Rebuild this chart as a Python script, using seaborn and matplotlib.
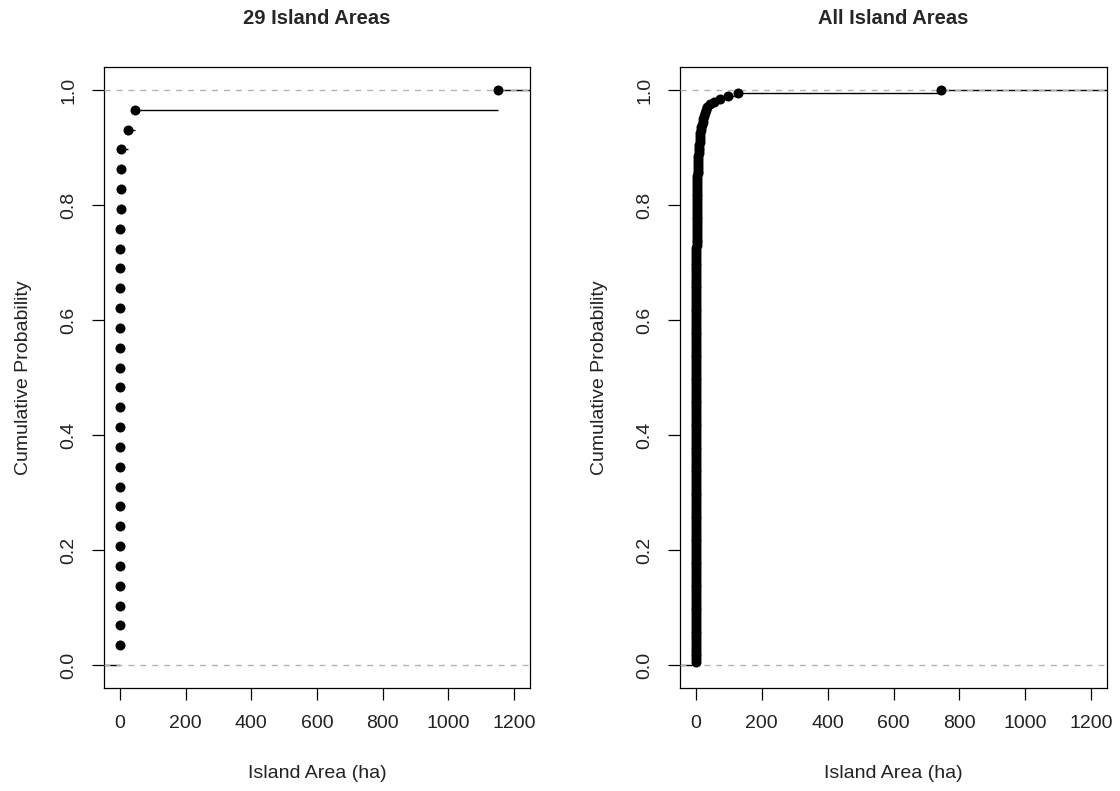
import numpy as np
import pandas as pd
import matplotlib
matplotlib.use("Agg")
import matplotlib.pyplot as plt
import seaborn as sns

# island areas (ha)
areas_29 = [0.05, 0.08, 0.1, 0.12, 0.15, 0.2, 0.25, 0.3, 0.35, 0.4,
            0.5, 0.6, 0.7, 0.8, 0.9, 1.0, 1.1, 1.2, 1.4, 1.6,
            1.8, 2.0, 2.3, 2.6, 3.0, 5.2, 25, 46.5, 1151]

areas_all = [0.01, 0.012, 0.015, 0.018, 0.02, 0.022, 0.025, 0.028, 0.03, 0.033,
             0.036, 0.04, 0.043, 0.046, 0.05, 0.054, 0.058, 0.062, 0.066, 0.07,
             0.075, 0.08, 0.085, 0.09, 0.095, 0.1, 0.105, 0.11, 0.116, 0.122,
             0.128, 0.134, 0.14, 0.147, 0.154, 0.161, 0.168, 0.175, 0.183, 0.191,
             0.2, 0.21, 0.22, 0.23, 0.24, 0.25, 0.26, 0.27, 0.28, 0.29,
             0.3, 0.31, 0.32, 0.33, 0.34, 0.35, 0.36, 0.37, 0.38, 0.39,
             0.4, 0.41, 0.42, 0.43, 0.44, 0.45, 0.46, 0.47, 0.48, 0.49,
             0.5, 0.52, 0.54, 0.56, 0.58, 0.6, 0.62, 0.64, 0.66, 0.68,
             0.7, 0.72, 0.74, 0.76, 0.78, 0.8, 0.82, 0.84, 0.86, 0.88,
             0.9, 0.92, 0.94, 0.96, 0.98, 1.0, 1.02, 1.04, 1.06, 1.08,
             1.1, 1.12, 1.14, 1.16, 1.18, 1.2, 1.22, 1.24, 1.26, 1.28,
             1.3, 1.32, 1.34, 1.36, 1.38, 1.4, 1.42, 1.44, 1.46, 1.48,
             1.5, 1.52, 1.54, 1.56, 1.58, 1.6, 1.62, 1.64, 1.66, 1.68,
             1.7, 1.72, 1.74, 1.76, 1.78, 1.8, 1.82, 1.84, 1.86, 1.88,
             1.9, 1.93, 1.96, 2.0, 2.05, 2.1, 2.15, 2.2, 2.25, 2.3,
             2.4, 2.5, 2.6, 2.7, 2.8,
             2.9, 3.0, 3.1, 3.2, 3.3, 3.4, 3.5, 3.6, 3.8, 4.0,
             4.2, 4.4, 4.6, 4.8, 5.0, 5.3, 5.6, 6.0, 6.5, 7.0,
             7.5, 8.0, 8.6, 9.2, 9.8, 10.5, 11.2, 12.0, 13.0, 14.0, 15.0,
             17, 19, 21, 23, 25, 27,
             30, 35, 42, 55, 73, 97, 127,
             743]

titles = ["29 Island Areas", "All Island Areas"]
x_ticks = [0, 200, 400, 600, 800, 1000, 1200]
y_ticks = [0.0, 0.2, 0.4, 0.6, 0.8, 1.0]

sns.set_style("white")
plt.rcParams['font.family'] = ['Liberation Sans', 'DejaVu Sans']
plt.rcParams['lines.scale_dashes'] = False

XLIM = (-48, 1248)
YLIM = (-0.04, 1.04)

fig = plt.figure(figsize=(11.2, 7.91), dpi=100)
ax1 = fig.add_axes([104 / 1120, 103 / 791, 426 / 1120, 621 / 791])
ax2 = fig.add_axes([680 / 1120, 103 / 791, 427 / 1120, 621 / 791])


def ecdf_panel(ax, values, title):
    x = np.sort(np.asarray(values, dtype=float))
    n = len(x)
    df = pd.DataFrame({'area': x, 'prob': np.arange(1, n + 1) / n})

    # horizontal steps only (no verticals), like R's plot.ecdf
    starts = np.concatenate([[XLIM[0]], x])
    ends = np.concatenate([x, [XLIM[1]]])
    levels = np.concatenate([[0.0], df['prob'].values])
    ax.hlines(levels, starts, ends, color='black', linewidth=1.0, zorder=2)

    for h in (0, 1):
        ax.axhline(h, color='#B3B3B3', linestyle=(0, (4.3, 4.3)), linewidth=1.0, zorder=3)

    sns.scatterplot(data=df, x='area', y='prob', ax=ax, color='black', s=52,
                    linewidth=0, zorder=4, legend=False)

    ax.set_xlim(*XLIM)
    ax.set_ylim(*YLIM)
    ax.set_xticks(x_ticks)
    ax.set_xticklabels([str(t) for t in x_ticks])
    ax.set_yticks(y_ticks)
    ax.set_yticklabels([f"{t:.1f}" for t in y_ticks], rotation=90, va='center')
    ax.tick_params(axis='both', direction='out', length=8.3, width=0.9,
                   color='black', labelsize=14, labelcolor='#222222', pad=11,
                   bottom=True, left=True)
    for side in ax.spines.values():
        side.set_visible(True)
        side.set_color('black')
        side.set_linewidth(0.9)

    ax.set_title(title, fontsize=14.5, fontweight='bold', pad=31)
    ax.set_xlabel('Island Area (ha)', fontsize=14, labelpad=24, color='#222222')
    ax.set_ylabel('Cumulative Probability', fontsize=14, labelpad=20, color='#222222')


ecdf_panel(ax1, areas_29, titles[0])
ecdf_panel(ax2, areas_all, titles[1])

fig.savefig('out.png', dpi=100, facecolor='white')
